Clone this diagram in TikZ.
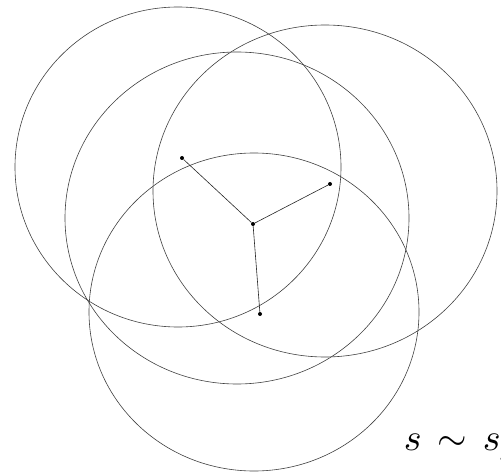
\documentclass[tikz,border=0pt]{standalone}
\begin{document}
\begin{tikzpicture}[x=1pt,y=-1pt,
  ring/.style={draw=black!75,line width=0.6pt},
  edge/.style={draw=black!85,line width=0.6pt},
  dot/.style={circle,fill=black,inner sep=0pt,minimum size=4pt}]
\useasboundingbox (0,0) rectangle (501,476);
\clip (0,0) rectangle (501,476);
\draw[ring] (178,167) ellipse [x radius=163,y radius=160];
\draw[ring] (325,191) ellipse [x radius=172,y radius=166];
\draw[ring] (237,218) ellipse [x radius=172,y radius=166];
\draw[ring] (254,312) ellipse [x radius=165,y radius=159];
\node[dot] (c) at (253,224) {};
\node[dot] (p1) at (182,158) {};
\node[dot] (p2) at (330,184) {};
\node[dot] (p3) at (260,314) {};
\draw[edge] (c) -- (p1);
\draw[edge] (c) -- (p2);
\draw[edge] (c) -- (p3);
\node[anchor=base west,inner sep=0pt,scale=3.8] (lab) at (403,450) {$s\mkern2.5mu\sim\mkern2.5mu s_{j}$};
\end{tikzpicture}
\end{document}
